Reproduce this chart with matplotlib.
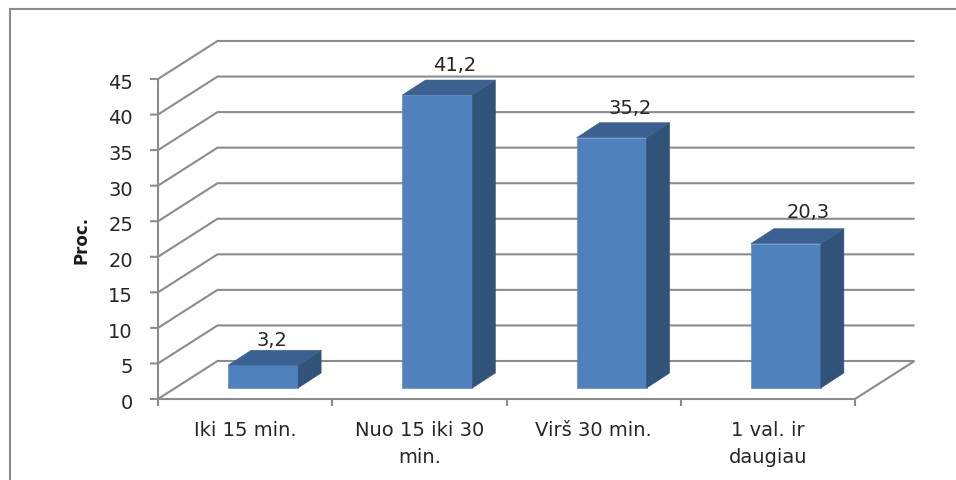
import matplotlib
matplotlib.use("Agg")
import matplotlib.pyplot as plt
from matplotlib.patches import Polygon

categories = ["Iki 15 min.", "Nuo 15 iki 30\nmin.", "Virš 30 min.", "1 val. ir\ndaugiau"]
values = [3.2, 41.2, 35.2, 20.3]
value_labels = ["3,2", "41,2", "35,2", "20,3"]
y_ticks = [0, 5, 10, 15, 20, 25, 30, 35, 40, 45]
y_title = "Proc."

W, H = 956, 481
FRONT_LEFT, FRONT_RIGHT, FRONT_BOTTOM, FRONT_TOP = 158, 855, 400, 80

GRID = "#8c8c8c"
TEXT = "#262626"
FRONT = "#4f81bd"
SIDE = "#325379"
TOP = "#3b6190"
FONT_SIZE = 14
LINE_W = 1.5

plt.rcParams["font.family"] = ["DejaVu Sans"]
fig = plt.figure(figsize=(W / 100, H / 100), dpi=100, facecolor="white")

# Chart frame: only the top and left edges fall inside the canvas
frame_x, frame_y = 9.5 / W, 1 - 10 / H
fig.add_artist(plt.Line2D([frame_x, frame_x], [0, frame_y], color=GRID, lw=LINE_W))
fig.add_artist(plt.Line2D([frame_x, 1], [frame_y, frame_y], color=GRID, lw=LINE_W))

ax = fig.add_axes([FRONT_LEFT / W, 1 - FRONT_BOTTOM / H,
                   (FRONT_RIGHT - FRONT_LEFT) / W, (FRONT_BOTTOM - FRONT_TOP) / H])
n = len(categories)
ax.set_xlim(0, n)
ax.set_ylim(0, 45)
ax.axis("off")

# Pixel sizes of one data unit, used to express offsets
PX = (FRONT_RIGHT - FRONT_LEFT) / n
PY = (FRONT_BOTTOM - FRONT_TOP) / 45

# Oblique projection towards the back wall
WALL_DX = 59.5 / PX
WALL_DY = 38 / PY


def line(xs, ys):
    ax.plot(xs, ys, color=GRID, lw=LINE_W, clip_on=False, solid_capstyle="butt", zorder=1)


for t in y_ticks:
    line([-8 / PX, 0, WALL_DX, n + WALL_DX], [t, t, t + WALL_DY, t + WALL_DY])
    ax.text(-25 / PX, t - 0.2, str(t), ha="right", va="center_baseline",
            fontsize=FONT_SIZE, color=TEXT)

# Front edge of the floor, its right side and the value axis
line([n + WALL_DX, n, 0], [WALL_DY, 0, 0])
line([0, 0], [0, 45])
for i in range(n + 1):
    line([i, i], [0, -7 / PY])

for i, c in enumerate(categories):
    ax.text(i + 0.5, -2.9, c, ha="center", va="top", fontsize=FONT_SIZE,
            color=TEXT, linespacing=1.55)

ax.text(-76 / PX, 22.5, y_title, rotation=90, ha="center", va="center",
        fontsize=12, fontweight="bold", color="#1a1a1a")

# Bars as three-faced prisms standing on the floor
BAR_WIDTH = 70 / PX
BAR_SHIFT = 18 / PX
BASE = 11 / PY
DX = 23 / PX
DY = 15 / PY
label_dx = [9 / PX, 17 / PX, 19 / PX, 22 / PX]
label_dy = [13 / PY, 18 / PY, 17 / PY, 19 / PY]
for i, v in enumerate(values):
    x0 = i + 0.5 - BAR_WIDTH / 2 + BAR_SHIFT
    x1 = x0 + BAR_WIDTH
    top = BASE + v
    faces = [
        ([(x0, BASE), (x1, BASE), (x1, top), (x0, top)], FRONT),
        ([(x1, BASE), (x1 + DX, BASE + DY), (x1 + DX, top + DY), (x1, top)], SIDE),
        ([(x0, top), (x1, top), (x1 + DX, top + DY), (x0 + DX, top + DY)], TOP),
    ]
    for pts, colour in faces:
        ax.add_patch(Polygon(pts, facecolor=colour, edgecolor=colour, lw=0.4,
                             zorder=3, clip_on=False))
    ax.text((x0 + x1) / 2 + label_dx[i], top + DY + label_dy[i], value_labels[i],
            ha="center", va="center_baseline", fontsize=FONT_SIZE, color=TEXT, zorder=4)

fig.savefig("out.png", dpi=100, facecolor="white")
